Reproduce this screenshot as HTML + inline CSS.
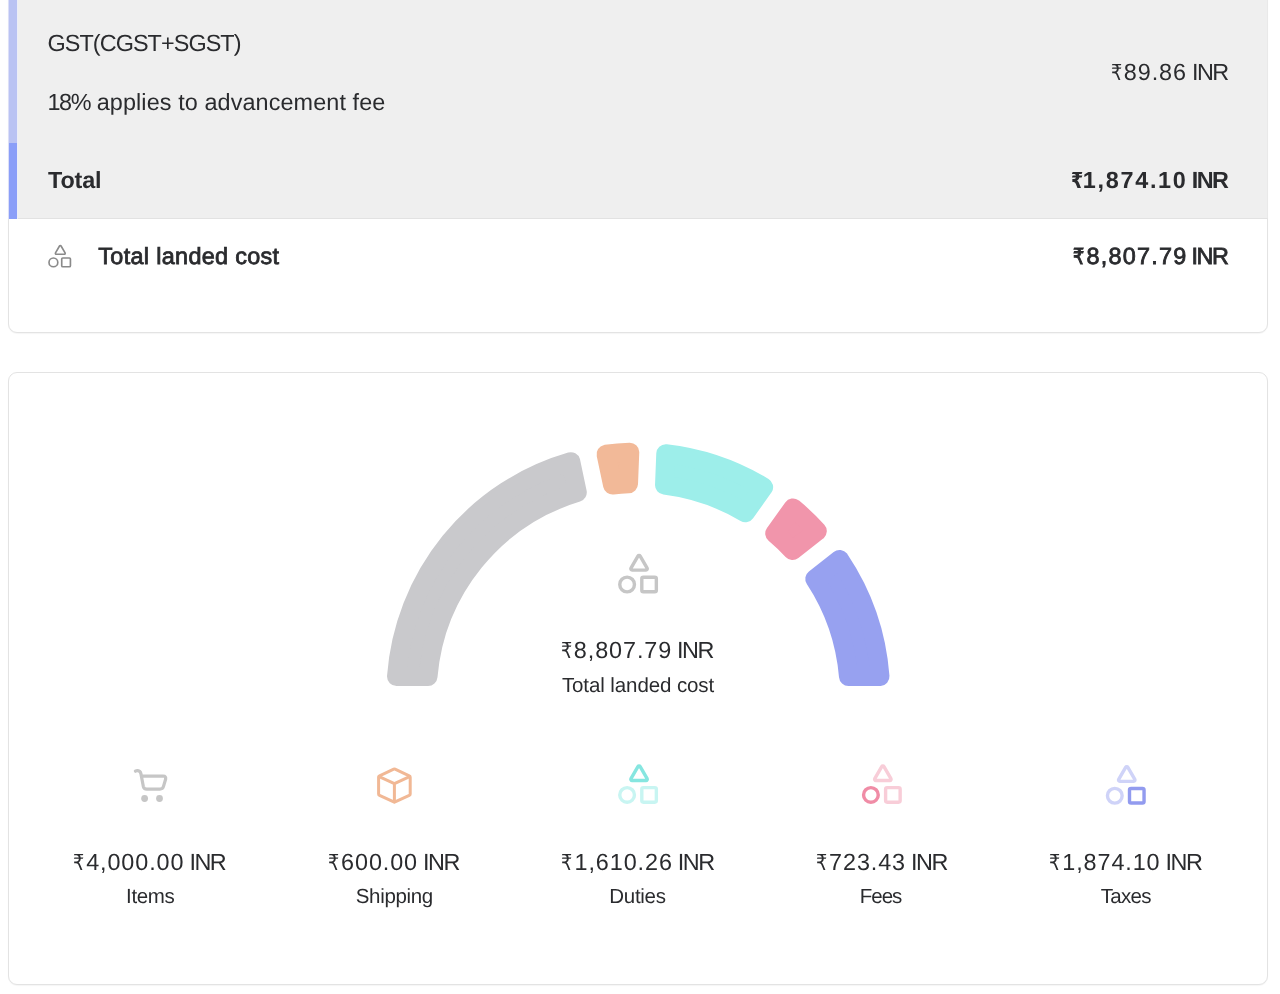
<!DOCTYPE html>
<html lang="en"><head><meta charset="utf-8"><title>Total landed cost</title>
<style>
html,body{margin:0;padding:0;background:#fff;}
body{width:1280px;height:994px;position:relative;overflow:hidden;font-family:"Liberation Sans","DejaVu Sans",sans-serif;color:#2a2b2e;text-rendering:geometricPrecision;}
.card{position:absolute;left:8px;width:1260px;box-sizing:border-box;border:1px solid #e3e3e3;border-radius:9px;background:#fff;box-shadow:0 1px 1px rgba(0,0,0,.04);overflow:hidden;}
#c1{top:-30px;height:363px;}
#c2{top:372px;height:613px;}
.grey{position:absolute;left:0;top:0;right:0;height:247px;background:#efefef;border-bottom:1px solid #e2e2e2;}
.bar1{position:absolute;left:0;top:0;width:8px;height:172px;background:#bac3f3;}
.bar2{position:absolute;left:0;top:172px;width:8px;height:76px;background:#8a9ef8;z-index:2;}
.edge{position:absolute;left:8px;top:0;width:1px;height:219px;background:#dcdff8;}
.t{position:absolute;white-space:nowrap;line-height:28px;font-size:23.4px;}
.s{position:absolute;white-space:nowrap;line-height:24px;font-size:20.5px;}
.b{font-weight:700;}
.sb{font-weight:400;-webkit-text-stroke:.8px #2a2b2e;}
.sb .ru{-webkit-text-stroke:1.1px #2a2b2e;}
.r{right:51px;text-align:right;}
.c{text-align:center;width:244px;}
.ru{display:inline-block;font-family:'DejaVu Sans',sans-serif;font-size:.94em;line-height:1;transform:scaleX(.8);transform-origin:0 50%;}
svg{position:absolute;left:0;top:0;overflow:visible;}
</style></head><body>
<main>
<section aria-label="Taxes">
<div class="card" id="c1">
 <div class="grey"><div class="bar1"></div><div class="bar2"></div></div>
</div>
<div class="edge"></div><div class="edge" style="left:17px;background:#eceef8"></div><div class="edge" style="left:1267px;height:218px;background:#e9e9e9"></div>

<div class="t" id="t1" style="left:47.5px;top:29px;letter-spacing:-.92px;">GST(CGST+SGST)</div>
<div class="t" id="t2" style="left:47.5px;top:88px;letter-spacing:.1px;"><span style="letter-spacing:-1.4px">18%</span> applies to advancement fee</div>
<div class="t r" id="t3" style="top:58px;right:50.8px;word-spacing:-1.5px;"><span class="ru" style="margin-right:-0.9px">₹</span><span style="letter-spacing:0.9px">89.86</span> <span style="letter-spacing:-1.5px;margin-right:1.5px">INR</span></div>
<div class="t b" id="t4" style="left:48px;top:166px;letter-spacing:-.15px;">Total</div>
<div class="t b r" id="t5" style="top:166px;right:51px;word-spacing:-2.3px;"><span class="ru" style="margin-right:-3.3px">₹</span><span style="letter-spacing:1.7px">1,874.10</span> <span style="letter-spacing:-1.5px;margin-right:1.5px">INR</span></div>
<div class="t sb" id="t6" style="left:98.3px;top:241.6px;letter-spacing:.33px;">Total landed cost</div>
<div class="t sb r" id="t7" style="top:241.6px;right:51px;word-spacing:-2.45px;"><span class="ru" style="margin-right:-0.2px">₹</span><span style="letter-spacing:1.25px">8,807.79</span> <span style="letter-spacing:-1.4px;margin-right:1.4px">INR</span></div>

</section>
<section aria-label="Total landed cost breakdown">
<div class="card" id="c2"></div>
<div class="t r" id="g1" style="top:636px;right:565.6px;word-spacing:-1.5px;"><span class="ru" style="margin-right:-0.9px">₹</span><span style="letter-spacing:0.9px">8,807.79</span> <span style="letter-spacing:-1.5px;margin-right:1.5px">INR</span></div>
<div class="s c" id="g2" style="left:516.0px;top:673.5px;letter-spacing:-.1px;">Total landed cost</div>

<div class="t r" id="v1" style="top:848px;right:1053.3px;word-spacing:-1.5px;"><span class="ru" style="margin-right:-0.9px">₹</span><span style="letter-spacing:0.9px">4,000.00</span> <span style="letter-spacing:-1.5px;margin-right:1.5px">INR</span></div>
<div class="s c" id="l1" style="left:28.3px;top:884.5px;letter-spacing:-0.35px;">Items</div>
<div class="t r" id="v2" style="top:848px;right:819.7px;word-spacing:-1.5px;"><span class="ru" style="margin-right:-0.9px">₹</span><span style="letter-spacing:0.9px">600.00</span> <span style="letter-spacing:-1.5px;margin-right:1.5px">INR</span></div>
<div class="s c" id="l2" style="left:272.3px;top:884.5px;letter-spacing:-0.35px;">Shipping</div>
<div class="t r" id="v3" style="top:848px;right:564.9px;word-spacing:-1.5px;"><span class="ru" style="margin-right:-0.9px">₹</span><span style="letter-spacing:0.9px">1,610.26</span> <span style="letter-spacing:-1.5px;margin-right:1.5px">INR</span></div>
<div class="s c" id="l3" style="left:515.5px;top:884.5px;letter-spacing:-0.3px;">Duties</div>
<div class="t r" id="v4" style="top:848px;right:331.7px;word-spacing:-1.5px;"><span class="ru" style="margin-right:-0.9px">₹</span><span style="letter-spacing:0.9px">723.43</span> <span style="letter-spacing:-1.5px;margin-right:1.5px">INR</span></div>
<div class="s c" id="l4" style="left:758.5px;top:884.5px;letter-spacing:-1.0px;">Fees</div>
<div class="t r" id="v5" style="top:848px;right:77.2px;word-spacing:-1.5px;"><span class="ru" style="margin-right:-0.9px">₹</span><span style="letter-spacing:0.9px">1,874.10</span> <span style="letter-spacing:-1.5px;margin-right:1.5px">INR</span></div>
<div class="s c" id="l5" style="left:1003.7px;top:884.5px;letter-spacing:-0.7px;">Taxes</div>

<svg width="1280" height="994" viewBox="0 0 1280 994" role="img" aria-label="Landed cost gauge and category icons">
<path d="M396.52 676.49A242.40 242.40 0 0 1 570.80 461.67L577.29 492.50A211.00 211.00 0 0 0 428.02 676.49Z" fill="#c9c9cc" stroke="#c9c9cc" stroke-width="19.0" stroke-linejoin="round"/>
<path d="M606.05 454.25A242.40 242.40 0 0 1 629.77 452.25L628.53 483.72A211.00 211.00 0 0 0 612.55 485.07Z" fill="#f2b998" stroke="#f2b998" stroke-width="19.0" stroke-linejoin="round"/>
<path d="M665.77 453.67A242.40 242.40 0 0 1 763.63 487.05L745.38 512.72A211.00 211.00 0 0 0 664.53 485.14Z" fill="#9deeea" stroke="#9deeea" stroke-width="19.0" stroke-linejoin="round"/>
<path d="M793.00 507.92A242.40 242.40 0 0 1 817.31 531.12L792.53 550.56A211.00 211.00 0 0 0 774.74 533.60Z" fill="#f195ab" stroke="#f195ab" stroke-width="19.0" stroke-linejoin="round"/>
<path d="M839.55 559.46A242.40 242.40 0 0 1 879.98 676.49L848.48 676.49A211.00 211.00 0 0 0 814.77 578.90Z" fill="#97a1f0" stroke="#97a1f0" stroke-width="19.0" stroke-linejoin="round"/>
<g transform="translate(618.2 553.85)" fill="none" stroke-width="3.4" stroke-linejoin="round" stroke-linecap="round">
<path d="M19.73 2.35A1.30 1.30 0 0 1 21.97 2.35L28.92 14.30A1.30 1.30 0 0 1 27.80 16.25L13.90 16.25A1.30 1.30 0 0 1 12.78 14.30Z" stroke="#c6c6c6"/>
<circle cx="8.90" cy="30.65" r="7.35" stroke="#c6c6c6"/>
<rect x="23.60" y="23.35" width="14.55" height="14.55" rx="1.60" stroke="#c6c6c6"/>
</g>
<g transform="translate(48.26 244.7)" fill="none" stroke-width="1.65" stroke-linejoin="round" stroke-linecap="round">
<path d="M11.25 1.28A0.91 0.91 0 0 1 12.81 1.28L16.82 8.17A0.91 0.91 0 0 1 16.04 9.53L8.02 9.53A0.91 0.91 0 0 1 7.24 8.17Z" stroke="#8a8a8a"/>
<circle cx="5.14" cy="17.69" r="4.40" stroke="#8a8a8a"/>
<rect x="13.46" y="13.32" width="8.71" height="8.71" rx="1.08" stroke="#8a8a8a"/>
</g>
<g transform="translate(618.2 764.3)" fill="none" stroke-width="3.4" stroke-linejoin="round" stroke-linecap="round">
<path d="M19.73 2.35A1.30 1.30 0 0 1 21.97 2.35L28.92 14.30A1.30 1.30 0 0 1 27.80 16.25L13.90 16.25A1.30 1.30 0 0 1 12.78 14.30Z" stroke="#86e6e0"/>
<circle cx="8.90" cy="30.65" r="7.35" stroke="#c8f5f2"/>
<rect x="23.60" y="23.35" width="14.55" height="14.55" rx="1.60" stroke="#c8f5f2"/>
</g>
<g transform="translate(862.0 764.3)" fill="none" stroke-width="3.4" stroke-linejoin="round" stroke-linecap="round">
<path d="M19.73 2.35A1.30 1.30 0 0 1 21.97 2.35L28.92 14.30A1.30 1.30 0 0 1 27.80 16.25L13.90 16.25A1.30 1.30 0 0 1 12.78 14.30Z" stroke="#f8cdd8"/>
<circle cx="8.90" cy="30.65" r="7.35" stroke="#f08ca6"/>
<rect x="23.60" y="23.35" width="14.55" height="14.55" rx="1.60" stroke="#f8cdd8"/>
</g>
<g transform="translate(1105.9 765.1)" fill="none" stroke-width="3.4" stroke-linejoin="round" stroke-linecap="round">
<path d="M19.73 2.35A1.30 1.30 0 0 1 21.97 2.35L28.92 14.30A1.30 1.30 0 0 1 27.80 16.25L13.90 16.25A1.30 1.30 0 0 1 12.78 14.30Z" stroke="#cfd3f8"/>
<circle cx="8.90" cy="30.65" r="7.35" stroke="#cfd3f8"/>
<rect x="23.60" y="23.35" width="14.55" height="14.55" rx="1.60" stroke="#929bef"/>
</g>
<g fill="none" stroke="#c6c6c6" stroke-width="3.2" stroke-linecap="round" stroke-linejoin="round">
<path d="M135.4 771.2 Q136.5 770.5 137.8 770.6 Q140.3 770.9 140.9 773.6 L143.3 786.3 Q143.9 789.1 146.8 789.1 L159.9 789.1 Q162.7 789.1 163.5 786.4 L165.6 779.3 Q166.3 776.1 163.2 776.1 L141.4 776.1"/>
</g>
<circle cx="144.6" cy="798.5" r="3.4" fill="#c6c6c6"/><circle cx="159.5" cy="798.5" r="3.4" fill="#c6c6c6"/>
<g fill="none" stroke="#f1b895" stroke-width="3" stroke-linecap="round" stroke-linejoin="round">
<path d="M393.73 769.21A1.60 1.60 0 0 1 395.07 769.21L409.27 775.77A1.60 1.60 0 0 1 410.20 777.22L410.20 793.88A1.60 1.60 0 0 1 409.28 795.33L395.08 801.98A1.60 1.60 0 0 1 393.72 801.98L379.52 795.33A1.60 1.60 0 0 1 378.60 793.88L378.60 777.22A1.60 1.60 0 0 1 379.53 775.77Z"/>
<path d="M379.2 776.6 L394.4 783.6 L409.6 776.6 M394.4 783.6 L394.4 801.8"/>
</g>
</svg>
</section>
</main>
</body></html>
